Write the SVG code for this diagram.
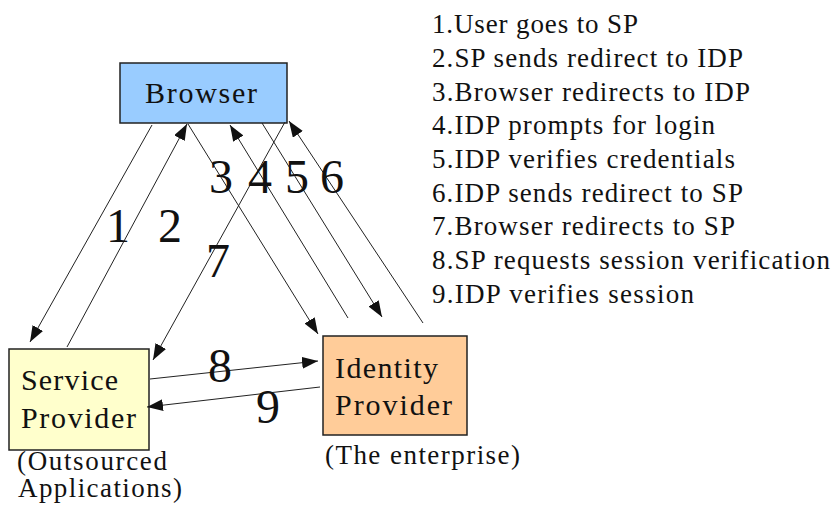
<svg xmlns="http://www.w3.org/2000/svg" width="835" height="511" viewBox="0 0 835 511">
<style>
text{font-family:"Liberation Serif","Times New Roman",serif;fill:#111}
.box{stroke:#222;stroke-width:1.5}
.lbl{font-size:30px}
.num{font-size:48px;text-anchor:middle}
.list{font-size:27px}
.sub{font-size:27px}
.con line{stroke:#222;stroke-width:1;marker-end:url(#ah)}
</style>
<defs>
<marker id="ah" markerUnits="userSpaceOnUse" markerWidth="18" markerHeight="14" refX="16" refY="6" orient="auto">
<path d="M0,0 L16,6 L0,12 Z" fill="#111"/>
</marker>
</defs>
<rect width="835" height="511" fill="#fff"/>
<g id="browser">
<rect class="box" x="120" y="63" width="167" height="60" fill="#99ccff"/>
<text class="lbl" x="145" y="103" textLength="112" lengthAdjust="spacing">Browser</text>
</g>
<g id="sp">
<rect class="box" x="9" y="349" width="140" height="101" fill="#ffffcc"/>
<text class="lbl" x="21" y="390" textLength="97" lengthAdjust="spacing">Service</text>
<text class="lbl" x="21" y="428" textLength="115" lengthAdjust="spacing">Provider</text>
<text class="sub" x="17" y="470" textLength="150" lengthAdjust="spacing">(Outsourced</text>
<text class="sub" x="18" y="497" textLength="164" lengthAdjust="spacing">Applications)</text>
</g>
<g id="idp">
<rect class="box" x="323" y="336" width="144" height="99" fill="#ffcc99"/>
<text class="lbl" x="335" y="378" textLength="103" lengthAdjust="spacing">Identity</text>
<text class="lbl" x="335" y="415" textLength="117" lengthAdjust="spacing">Provider</text>
<text class="sub" x="325" y="464" textLength="195" lengthAdjust="spacing">(The enterprise)</text>
</g>
<g class="con" id="connectors">
<line x1="152" y1="125" x2="30" y2="342"/>
<line x1="67" y1="347" x2="187" y2="124"/>
<line x1="188" y1="124" x2="318" y2="334"/>
<line x1="348" y1="318" x2="230" y2="125"/>
<line x1="262" y1="123" x2="382" y2="317"/>
<line x1="423" y1="323" x2="289" y2="121"/>
<line x1="285" y1="122" x2="153" y2="360"/>
<line x1="150" y1="379" x2="318" y2="361"/>
<line x1="320" y1="387" x2="147" y2="407"/>
</g>
<g id="labels">
<text class="num" x="118" y="242">1</text>
<text class="num" x="170" y="242">2</text>
<text class="num" x="221" y="193">3</text>
<text class="num" x="260" y="193">4</text>
<text class="num" x="297" y="193">5</text>
<text class="num" x="332" y="193">6</text>
<text class="num" x="218" y="277">7</text>
<text class="num" x="220" y="382">8</text>
<text class="num" x="268" y="423">9</text>
</g>
<g id="legend" class="list">
<text x="432" y="33" textLength="206" lengthAdjust="spacing">1.User goes to SP</text>
<text x="432" y="67" textLength="311" lengthAdjust="spacing">2.SP sends redirect to IDP</text>
<text x="432" y="101" textLength="318" lengthAdjust="spacing">3.Browser redirects to IDP</text>
<text x="432" y="134" textLength="283" lengthAdjust="spacing">4.IDP prompts for login</text>
<text x="432" y="168" textLength="303" lengthAdjust="spacing">5.IDP verifies credentials</text>
<text x="432" y="202" textLength="311" lengthAdjust="spacing">6.IDP sends redirect to SP</text>
<text x="432" y="235" textLength="303" lengthAdjust="spacing">7.Browser redirects to SP</text>
<text x="432" y="269" textLength="398" lengthAdjust="spacing">8.SP requests session verification</text>
<text x="432" y="303" textLength="262" lengthAdjust="spacing">9.IDP verifies session</text>
</g>
</svg>
